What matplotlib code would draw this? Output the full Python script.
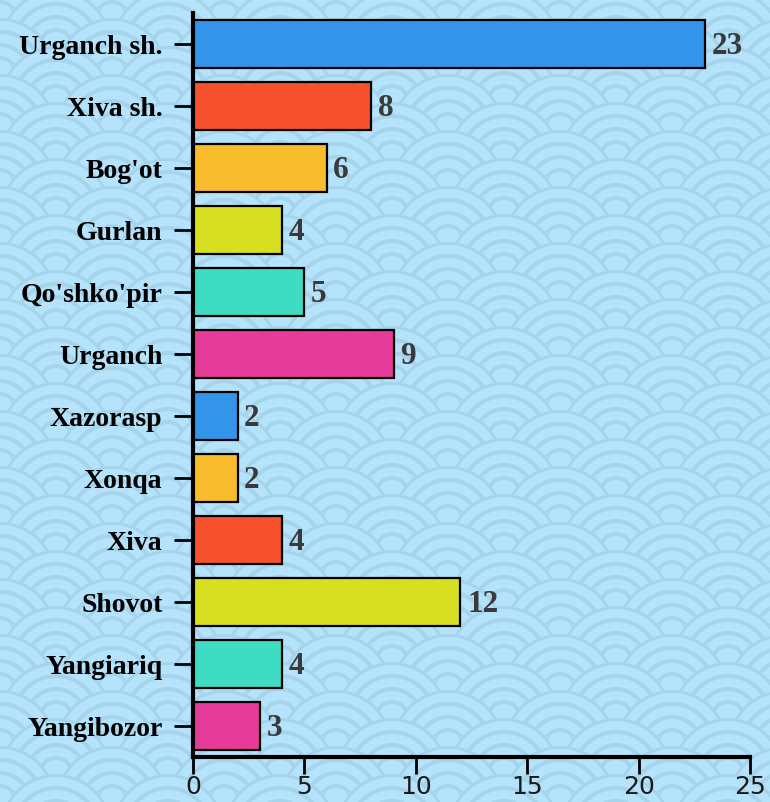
import matplotlib
matplotlib.use("Agg")
import matplotlib.pyplot as plt
from matplotlib.patches import Circle
from matplotlib.collections import PatchCollection

districts = ["Urganch sh.", "Xiva sh.", "Bog'ot", "Gurlan", "Qo'shko'pir", "Urganch",
             "Xazorasp", "Xonqa", "Xiva", "Shovot", "Yangiariq", "Yangibozor"]
counts = [23, 8, 6, 4, 5, 9, 2, 2, 4, 12, 4, 3]
bar_colors = ["#3395e9", "#f7502c", "#f8bb2c", "#d7e020", "#3ddcc3", "#e63b98",
              "#3395e9", "#f8bb2c", "#f7502c", "#d7e020", "#3ddcc3", "#e63b98"]
x_ticks = [0, 5, 10, 15, 20, 25]

W, H = 770, 802
fig = plt.figure(figsize=(W / 100, H / 100), dpi=100)

# seigaiha wave background drawn in pixel coordinates
bg = fig.add_axes([0, 0, 1, 1], zorder=-5)
bg.set_xlim(0, W)
bg.set_ylim(H, 0)
bg.axis("off")
light, dark = "#b4e3fb", "#a6d4eb"
R = 56
radii = [56, 53, 44, 40, 31, 27, 18, 14]
patches, cols = [], []
row = 0
y = -10
while y < H + R:
    off = (row % 2) * R
    x = -R + off
    while x < W + 2 * R:
        for k, r in enumerate(radii):
            patches.append(Circle((x, y), r))
            cols.append(dark if k % 2 == 0 else light)
        x += 2 * R
    y += R / 2
    row += 1
bg.add_collection(PatchCollection(patches, facecolors=cols, edgecolors="none"))
bg.patch.set_facecolor(light)

ax = fig.add_axes([193 / W, 1 - 757 / H, (750 - 193) / W, (757 - 13) / H])
ax.patch.set_alpha(0)
pos = list(range(len(districts)))
bars = ax.barh(pos, counts, height=0.77, color=bar_colors, edgecolor="black", linewidth=1.6)
ax.set_ylim(len(districts) - 0.5, -0.5)
ax.set_xlim(0, 25)

for p, v in zip(pos, counts):
    ax.text(v + 0.3, p + 0.04, str(v), va="center", ha="left", fontsize=22.5, fontweight="bold",
            family="Liberation Serif", color="#3a3a3a")

ax.set_yticks(pos)
ax.set_yticklabels(districts, fontsize=20, fontweight="bold", family="Liberation Serif")
ax.set_xticks(x_ticks)
ax.set_xticklabels([str(t) for t in x_ticks], fontsize=18, family="DejaVu Sans",
                   color="#1a1a1a")
ax.tick_params(axis="y", length=14, width=2, pad=8)
ax.tick_params(axis="x", length=12, width=2, pad=1)

for s in ["top", "right"]:
    ax.spines[s].set_visible(False)
for s in ["left", "bottom"]:
    ax.spines[s].set_linewidth(3)

fig.savefig("out.png", dpi=100)
